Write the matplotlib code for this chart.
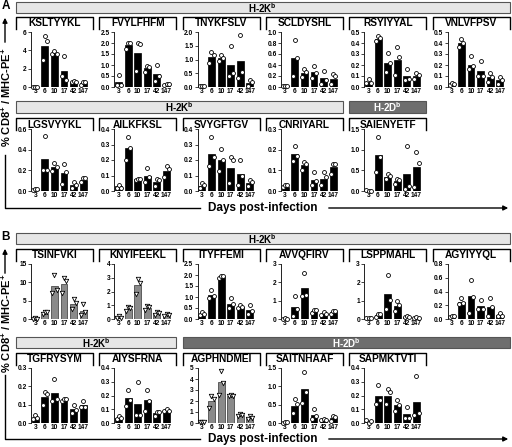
import numpy as np
import matplotlib.pyplot as plt
from matplotlib.patches import Rectangle, FancyArrowPatch
from matplotlib.lines import Line2D

plt.rcParams['font.family'] = ['Liberation Sans', 'DejaVu Sans']
plt.rcParams['font.weight'] = 'bold'
plt.rcParams['mathtext.fontset'] = 'custom'
plt.rcParams['mathtext.rm'] = 'Liberation Sans:bold'
plt.rcParams['mathtext.bf'] = 'Liberation Sans:bold'

days = ['3', '6', '10', '17', '42', '147']

# panel A, row 1 (H-2Kb)
ksltyykl_mean = [0.05, 4.5, 3.7, 1.8, 0.6, 0.4]
ksltyykl_pts = [[0.05, 0.05, 0.05], [3.0, 5.6, 5.0], [3.6, 3.9, 3.6], [1.15, 3.4, 0.8], [0.5, 0.7, 0.6], [0.2, 0.5, 0.5]]
fvylfhfm_mean = [0.25, 1.9, 1.55, 0.85, 0.6, 0.12]
fvylfhfm_pts = [[0.1, 0.55, 0.1], [1.75, 2.0, 2.0], [0.75, 2.0, 1.95], [0.69, 0.97, 0.9], [0.29, 0.99, 0.49], [0.1, 0.15, 0.13]]
tnykfslv_mean = [0.03, 1.1, 1.05, 0.8, 0.93, 0.15]
tnykfslv_pts = [[0.03, 0.05, 0.03], [0.88, 1.28, 1.15], [0.94, 1.16, 1.06], [0.41, 1.49, 0.51], [0.34, 1.89, 0.54], [0.05, 0.25, 0.2]]
scldyshl_mean = [0.01, 0.52, 0.25, 0.27, 0.16, 0.15]
scldyshl_pts = [[0.02, 0.02, 0.02], [0.2, 0.85, 0.52], [0.18, 0.32, 0.28], [0.17, 0.39, 0.26], [0.05, 0.29, 0.13], [0.05, 0.23, 0.2]]
rsyiyyal_mean = [0.05, 0.44, 0.22, 0.25, 0.1, 0.1]
rsyiyyal_pts = [[0.04, 0.07, 0.04], [0.42, 0.46, 0.45], [0.14, 0.31, 0.22], [0.11, 0.36, 0.27], [0.06, 0.16, 0.07], [0.07, 0.13, 0.11]]
vnlvfpsv_mean = [0.03, 0.4, 0.2, 0.15, 0.09, 0.06]
vnlvfpsv_pts = [[0.02, 0.04, 0.03], [0.36, 0.44, 0.4], [0.16, 0.28, 0.19], [0.1, 0.24, 0.1], [0.05, 0.13, 0.09], [0.03, 0.09, 0.06]]

# panel A, row 2
lgsvyykl_mean = [0.01, 0.31, 0.23, 0.17, 0.06, 0.11]
lgsvyykl_pts = [[0.01, 0.02, 0.02], [0.2, 0.53, 0.2], [0.19, 0.27, 0.23], [0.07, 0.26, 0.18], [0.03, 0.09, 0.06], [0.09, 0.13, 0.13]]
ailkfksl_mean = [0.03, 0.28, 0.08, 0.1, 0.06, 0.13]
ailkfksl_pts = [[0.02, 0.04, 0.02], [0.2, 0.35, 0.28], [0.07, 0.08, 0.08], [0.06, 0.15, 0.09], [0.03, 0.08, 0.07], [0.09, 0.16, 0.14]]
svygftgv_mean = [0.03, 0.24, 0.2, 0.15, 0.11, 0.05]
svygftgv_pts = [[0.02, 0.05, 0.04], [0.16, 0.35, 0.22], [0.13, 0.27, 0.2], [0.05, 0.22, 0.2], [0.04, 0.2, 0.1], [0.03, 0.07, 0.06]]
cnriyarl_mean = [0.02, 0.18, 0.125, 0.055, 0.06, 0.115]
cnriyarl_pts = [[0.02, 0.03, 0.03], [0.145, 0.22, 0.17], [0.1, 0.14, 0.13], [0.03, 0.09, 0.05], [0.03, 0.09, 0.07], [0.08, 0.13, 0.13]]
saienyetf_mean = [0.01, 0.88, 0.35, 0.25, 0.42, 0.58]
saienyetf_pts = [[0.02, 0.01, 0.0], [0.47, 1.3, 0.83], [0.28, 0.4, 0.37], [0.17, 0.3, 0.27], [0.04, 1.1, 0.12], [0.1, 0.95, 0.68]]

# panel B, row 1
tsinfvki_mean = [0.1, 1.5, 9.0, 9.5, 4.2, 2.3]
tsinfvki_pts = [[0.1, 0.2, 0.1], [1.3, 2.0, 1.8], [7.2, 12.0, 7.9], [7.0, 11.1, 10.4], [2.8, 5.5, 4.5], [1.0, 4.0, 2.0]]
knyifeekl_mean = [0.15, 0.75, 2.45, 0.8, 0.4, 0.3]
knyifeekl_pts = [[0.1, 0.2, 0.1], [0.6, 0.85, 0.8], [1.8, 2.9, 2.6], [0.65, 0.95, 0.85], [0.3, 0.5, 0.45], [0.2, 0.4, 0.3]]
ityffemi_mean = [0.25, 1.1, 1.9, 0.7, 0.55, 0.42]
ityffemi_pts = [[0.2, 0.3, 0.25], [0.95, 1.33, 1.05], [1.85, 1.95, 1.95], [0.5, 0.95, 0.68], [0.5, 0.65, 0.55], [0.25, 0.65, 0.35]]
avvqfirv_mean = [0.02, 0.68, 1.7, 0.45, 0.3, 0.4]
avvqfirv_pts = [[0.02, 0.03, 0.02], [0.15, 1.28, 0.54], [1.27, 2.53, 1.32], [0.35, 0.5, 0.5], [0.2, 0.4, 0.3], [0.3, 0.45, 0.45]]
lsppmahl_mean = [0.05, 0.2, 1.35, 0.7, 0.12, 0.08]
lsppmahl_pts = [[0.03, 0.06, 0.05], [0.1, 0.25, 0.25], [0.54, 2.4, 1.05], [0.42, 0.96, 0.78], [0.1, 0.15, 0.13], [0.06, 0.1, 0.08]]
agyiyyql_mean = [0.04, 0.25, 0.33, 0.19, 0.17, 0.06]
agyiyyql_pts = [[0.03, 0.05, 0.04], [0.22, 0.3, 0.23], [0.09, 0.57, 0.32], [0.14, 0.27, 0.15], [0.05, 0.3, 0.17], [0.05, 0.09, 0.05]]

# panel B, row 2
tgfrysym_mean = [0.03, 0.14, 0.165, 0.125, 0.075, 0.1]
tgfrysym_pts = [[0.02, 0.045, 0.03], [0.1, 0.17, 0.16], [0.12, 0.24, 0.13], [0.12, 0.13, 0.13], [0.055, 0.1, 0.07], [0.09, 0.12, 0.09]]
aiysfrna_mean = [0.04, 0.18, 0.14, 0.165, 0.07, 0.09]
aiysfrna_pts = [[0.03, 0.05, 0.04], [0.125, 0.24, 0.17], [0.06, 0.3, 0.06], [0.09, 0.24, 0.16], [0.05, 0.08, 0.08], [0.09, 0.1, 0.09]]
agphndmei_mean = [0.05, 2.0, 3.7, 2.5, 0.7, 0.5]
agphndmei_pts = [[0.05, 0.05, 0.05], [1.4, 2.5, 2.2], [2.55, 4.7, 3.65], [2.45, 2.55, 2.5], [0.6, 0.8, 0.7], [0.4, 0.6, 0.5]]
saitnhaaf_mean = [0.01, 0.47, 0.93, 0.22, 0.08, 0.13]
saitnhaaf_pts = [[0.01, 0.02, 0.02], [0.27, 0.65, 0.52], [0.55, 1.39, 0.85], [0.1, 0.38, 0.2], [0.07, 0.1, 0.08], [0.05, 0.18, 0.17]]
sapmktvti_mean = [0.01, 0.2, 0.2, 0.13, 0.065, 0.155]
sapmktvti_pts = [[0.02, 0.0, 0.015], [0.14, 0.28, 0.17], [0.14, 0.25, 0.225], [0.09, 0.17, 0.13], [0.035, 0.12, 0.04], [0.06, 0.34, 0.07]]

W, H = 512, 447
fig = plt.figure(figsize=(W / 100, H / 100), dpi=100)
offs = [-0.22, 0.0, 0.22]


def fx(x):
    return x / W


def fy(y):
    return 1 - y / H


def col_left(c):
    return 16 + 83.3 * c


def line(xs, ys, **kw):
    fig.add_artist(Line2D([fx(x) for x in xs], [fy(y) for y in ys],
                          transform=fig.transFigure, color='black', lw=1, **kw))


def arrow(p0, p1):
    fig.add_artist(FancyArrowPatch((fx(p0[0]), fy(p0[1])), (fx(p1[0]), fy(p1[1])),
                                   transform=fig.transFigure, arrowstyle='-|>',
                                   mutation_scale=7, lw=1, color='black'))


def banner(c0, c1, y0, y1, text, dark):
    x0 = col_left(c0)
    x1 = col_left(c1) + 77
    fig.add_artist(Rectangle((fx(x0), fy(y1)), (x1 - x0) / W, (y1 - y0) / H,
                             transform=fig.transFigure,
                             facecolor='#6e6e6e' if dark else '#e6e6e6',
                             edgecolor='#555555', lw=0.8))
    fig.text(fx((x0 + x1) / 2), fy((y0 + y1) / 2 + 0.5), text, ha='center', va='center',
             fontsize=7, color='white' if dark else 'black')


def panel(c, box, axy, name, mean, pts, ymax, ystep, gray=False):
    x0 = col_left(c)
    x1 = x0 + 77
    line([x0, x0, x1, x1], [box[1], box[0], box[0], box[1]])
    fig.text(fx((x0 + x1) / 2), fy((box[0] + box[1]) / 2 + 0.5), name,
             ha='center', va='center', fontsize=7.3)
    ax = fig.add_axes([fx(x0 + 15), fy(axy[1]), 57 / W, (axy[1] - axy[0]) / H])
    ax.patch.set_visible(False)
    x = np.arange(len(days))
    ax.bar(x, mean, width=0.72, color='#8a8a8a' if gray else 'black',
           edgecolor='#333333' if gray else 'black', lw=0.5)
    for i, vals in enumerate(pts):
        for j, v in enumerate(vals):
            ax.scatter(i + offs[j], v, marker='v' if gray else 'o', s=10 if gray else 8,
                       facecolor='white', edgecolor='black', lw=0.6, zorder=3, clip_on=False)
    ax.set_xlim(-0.45, 5.5)
    ax.set_ylim(0, ymax)
    ticks = np.arange(0, ymax + ystep / 2, ystep)
    ax.set_yticks(ticks)
    if ystep < 1:
        ax.set_yticklabels(['%.1f' % t for t in ticks])
    else:
        ax.set_yticklabels(['%d' % t for t in ticks])
    ax.set_xticks(x)
    ax.set_xticklabels(days)
    ax.tick_params(axis='x', length=0, pad=1.0, labelsize=4.8)
    ax.tick_params(axis='y', length=2, width=0.6, pad=1, labelsize=4.8, color='#222222')
    for s in ['top', 'right', 'bottom']:
        ax.spines[s].set_visible(False)
    ax.spines['left'].set_linewidth(0.7)
    ax.spines['left'].set_color('#222222')


kb = 'H-2K$^\\mathrm{b}$'
db = 'H-2D$^\\mathrm{b}$'

# ---- panel A ----
banner(0, 5, 2, 13, kb, False)
rA1 = ((17, 29), (32, 87))
panel(0, *rA1, 'KSLTYYKL', ksltyykl_mean, ksltyykl_pts, 6, 2)
panel(1, *rA1, 'FVYLFHFM', fvylfhfm_mean, fvylfhfm_pts, 2.5, 0.5)
panel(2, *rA1, 'TNYKFSLV', tnykfslv_mean, tnykfslv_pts, 2.0, 0.5)
panel(3, *rA1, 'SCLDYSHL', scldyshl_mean, scldyshl_pts, 1.0, 0.2)
panel(4, *rA1, 'RSYIYYAL', rsyiyyal_mean, rsyiyyal_pts, 0.5, 0.1)
panel(5, *rA1, 'VNLVFPSV', vnlvfpsv_mean, vnlvfpsv_pts, 0.5, 0.1)

banner(0, 3, 101, 113, kb, False)
banner(4, 4, 101, 113, db, True)
rA2 = ((118, 130), (129, 191))
panel(0, *rA2, 'LGSVYYKL', lgsvyykl_mean, lgsvyykl_pts, 0.6, 0.2)
panel(1, *rA2, 'AILKFKSL', ailkfksl_mean, ailkfksl_pts, 0.4, 0.1)
panel(2, *rA2, 'SVYGFTGV', svygftgv_mean, svygftgv_pts, 0.4, 0.1)
panel(3, *rA2, 'CNRIYARL', cnriyarl_mean, cnriyarl_pts, 0.3, 0.1)
panel(4, *rA2, 'SAIENYETF', saienyetf_mean, saienyetf_pts, 1.5, 0.5)

# ---- panel B ----
banner(0, 5, 233, 244, kb, False)
rB1 = ((249, 261), (264, 319))
panel(0, *rB1, 'TSINFVKI', tsinfvki_mean, tsinfvki_pts, 15, 5, gray=True)
panel(1, *rB1, 'KNYIFEEKL', knyifeekl_mean, knyifeekl_pts, 4, 1, gray=True)
panel(2, *rB1, 'ITYFFEMI', ityffemi_mean, ityffemi_pts, 2.5, 0.5)
panel(3, *rB1, 'AVVQFIRV', avvqfirv_mean, avvqfirv_pts, 3, 1)
panel(4, *rB1, 'LSPPMAHL', lsppmahl_mean, lsppmahl_pts, 3, 1)
panel(5, *rB1, 'AGYIYYQL', agyiyyql_mean, agyiyyql_pts, 0.8, 0.2)

banner(0, 1, 337, 348, kb, False)
banner(2, 5, 337, 348, db, True)
rB2 = ((353, 365), (368, 423))
panel(0, *rB2, 'TGFRYSYM', tgfrysym_mean, tgfrysym_pts, 0.3, 0.1)
panel(1, *rB2, 'AIYSFRNA', aiysfrna_mean, aiysfrna_pts, 0.4, 0.1)
panel(2, *rB2, 'AGPHNDMEI', agphndmei_mean, agphndmei_pts, 5, 1, gray=True)
panel(3, *rB2, 'SAITNHAAF', saitnhaaf_mean, saitnhaaf_pts, 1.5, 0.5)
panel(4, *rB2, 'SAPMKTVTI', sapmktvti_mean, sapmktvti_pts, 0.4, 0.1)

# axis captions with arrows
ylab = '% CD8$^\\mathrm{+}$ / MHC-PE$^\\mathrm{+}$'
for letter, ytop, yl, yline, ybot in [('A', 6, 97, 155, 208), ('B', 237, 323, 375, 439)]:
    fig.text(fx(6), fy(ytop), letter, ha='center', va='center', fontsize=8.5)
    arrow((5, ytop + 39), (5, ytop + 9))
    fig.text(fx(6), fy(yl), ylab, rotation=90, ha='center', va='center', fontsize=8)
    line([5, 5, 200], [yline, ybot, ybot])
    fig.text(fx(263), fy(ybot), 'Days post-infection', ha='center', va='center', fontsize=8.5)
    arrow((326, ybot), (511, ybot))

fig.savefig('out.png', dpi=100)
